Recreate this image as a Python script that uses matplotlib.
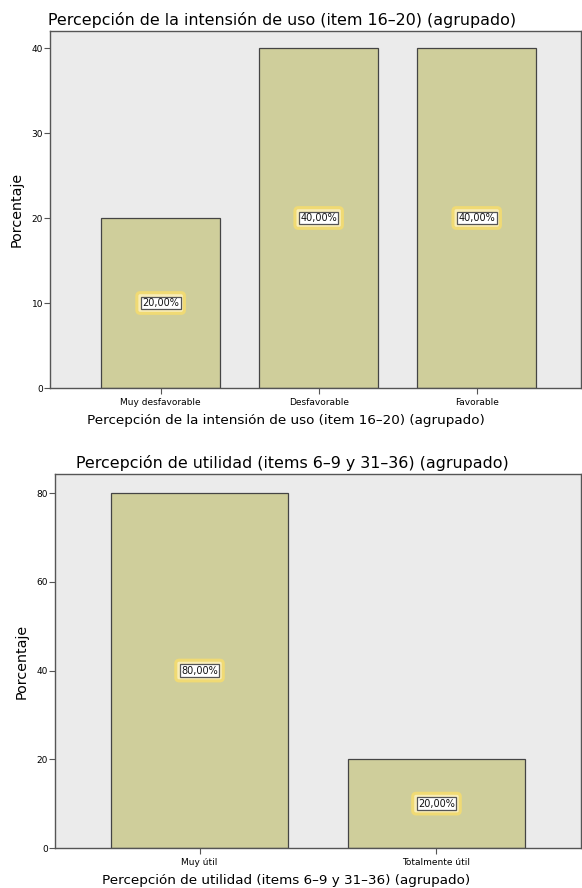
import matplotlib

matplotlib.use("Agg")
import matplotlib.pyplot as plt
import numpy as np

# data
cats_top = ["Muy desfavorable", "Desfavorable", "Favorable"]
pct_top = [20.0, 40.0, 40.0]
title_top = "Percepción de la intensión de uso (item 16–20) (agrupado)"

cats_bot = ["Muy útil", "Totalmente útil"]
pct_bot = [80.0, 20.0]
title_bot = "Percepción de utilidad (items 6–9 y 31–36) (agrupado)"

BG = "#EBEBEB"
BAR = "#CFCE9B"
EDGE = "#444444"
FRAME = "#555555"
W, H = 582, 888


def fmt(v):
    return f"{v:.2f}".replace(".", ",") + "%"


def draw(ax, cats, vals, title, xlim, ylim, yticks, left_px, width_px, height_px, title_px):
    x = np.arange(len(cats))
    ax.set_facecolor(BG)
    ax.bar(x, vals, 0.75, color=BAR, edgecolor=EDGE, linewidth=0.9, zorder=2)
    for xi, v in zip(x, vals):
        # yellow glow behind the white label box
        ax.text(xi, v / 2, fmt(v), ha="center", va="center", fontsize=7, color="#F8EDB8",
                zorder=3, bbox=dict(boxstyle="round,pad=0.55,rounding_size=0.35",
                                    fc="#F8EDB8", ec="#F0DA74", lw=2.2))
        ax.text(xi, v / 2, fmt(v), ha="center", va="center", fontsize=7, color="#111111",
                zorder=4, bbox=dict(boxstyle="square,pad=0.15", fc="white", ec="#555555", lw=0.9))
    ax.set_xlim(*xlim)
    ax.set_ylim(*ylim)
    ax.set_yticks(yticks)
    ax.set_xticks(x)
    ax.set_xticklabels(cats, fontsize=6.5)
    ax.tick_params(axis="y", labelsize=6.5, length=4, width=0.8, color=FRAME, pad=1)
    ax.tick_params(axis="x", length=4, width=0.8, color=FRAME, pad=3)
    for s in ax.spines.values():
        s.set_color(FRAME)
        s.set_linewidth(1.0)
    ax.set_ylabel("Porcentaje", fontsize=10.3, labelpad=6)
    ax.set_xlabel(title, fontsize=9.7)
    ax.xaxis.set_label_coords((286 - left_px) / width_px, -26 / height_px)
    ax.set_title(title, fontsize=11.4, x=(title_px - left_px) / width_px, pad=4)


fig = plt.figure(figsize=(W / 100, H / 100), dpi=100)
fig.patch.set_facecolor("white")

ax1 = fig.add_axes([50 / W, 1 - 388 / H, 531 / W, (388 - 31) / H])
draw(ax1, cats_top, pct_top, title_top, (-0.70, 2.66), (0, 42.0), [0, 10, 20, 30, 40],
     50, 531, 357, 282)

ax2 = fig.add_axes([55 / W, 1 - 848 / H, 526 / W, (848 - 474) / H])
draw(ax2, cats_bot, pct_bot, title_bot, (-0.61, 1.61), (0, 84.3), [0, 20, 40, 60, 80],
     55, 526, 374, 292)

fig.savefig("out.png", dpi=100, facecolor="white")
